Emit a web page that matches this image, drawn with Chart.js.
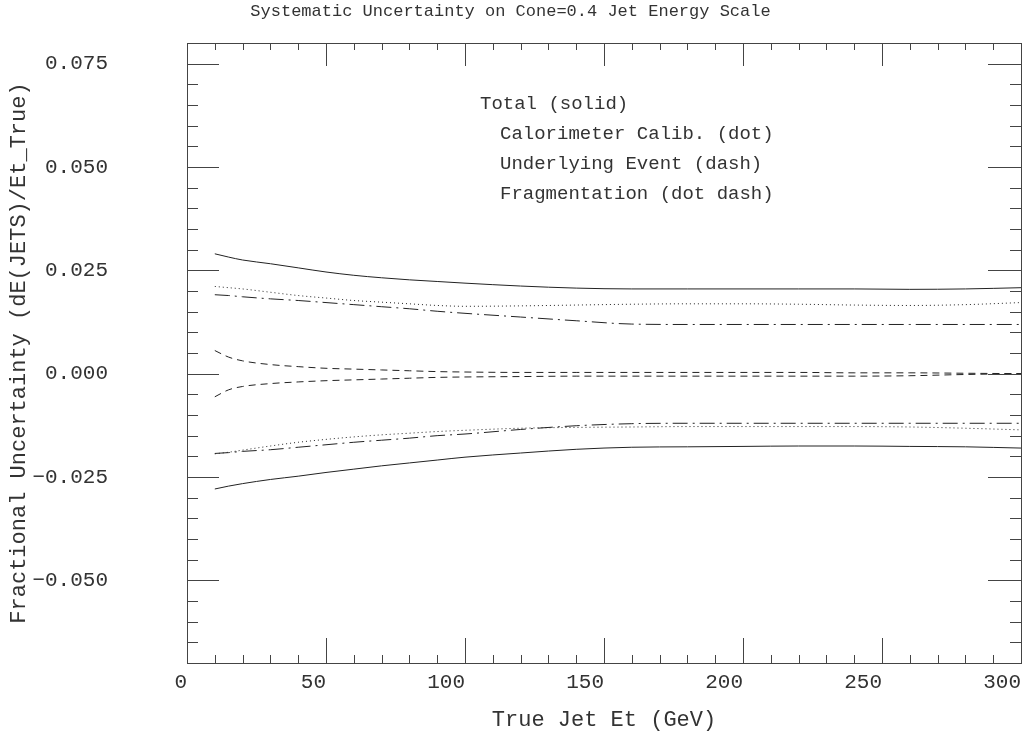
<!DOCTYPE html>
<html lang="en">
<head>
  <meta charset="UTF-8">
  <title>Systematic Uncertainty on Cone=0.4 Jet Energy Scale</title>
  <script src="https://cdn.jsdelivr.net/npm/chart.js"></script>
  <style>
    html, body {
      margin: 0;
      padding: 0;
      background: #fff;
    }
  </style>
</head>
<body>
  <canvas id="jesChart" width="1028" height="734"></canvas>

  <script>
    // True jet Et (GeV) sample points
    const etValues = [10, 15, 20, 30, 40, 50, 60, 70, 80, 90, 100, 120, 140, 160, 180, 200, 220, 240, 260, 280, 300];

    // fractional uncertainty, upper and lower bands
    const totalUp = [0.0290, 0.0282, 0.0275, 0.0266, 0.0256, 0.0246, 0.0238, 0.0232, 0.0227, 0.0223, 0.0219, 0.0212, 0.0207, 0.0205, 0.0205, 0.0205, 0.0205, 0.0205, 0.0204, 0.0205, 0.0208];
    const caloUp = [0.0211, 0.0208, 0.0205, 0.0197, 0.0189, 0.0183, 0.0177, 0.0173, 0.0169, 0.0165, 0.0163, 0.0164, 0.0166, 0.0168, 0.0169, 0.0169, 0.0168, 0.0166, 0.0165, 0.0167, 0.0172];
    const ueUp = [0.0056, 0.0040, 0.0031, 0.0022, 0.0017, 0.0013, 0.0011, 0.0009, 0.0007, 0.0005, 0.0004, 0.0003, 0.0003, 0.0003, 0.0003, 0.0003, 0.0003, 0.0002, 0.0002, 0.0001, 0.0000];
    const fragUp = [0.0191, 0.0189, 0.0186, 0.0181, 0.0177, 0.0172, 0.0167, 0.0162, 0.0157, 0.0151, 0.0146, 0.0137, 0.0128, 0.0120, 0.0119, 0.0119, 0.0119, 0.0119, 0.0119, 0.0119, 0.0119];
    const ueLo = [-0.0056, -0.0039, -0.0031, -0.0024, -0.0020, -0.0017, -0.0015, -0.0013, -0.0011, -0.0009, -0.0008, -0.0007, -0.0006, -0.0006, -0.0006, -0.0006, -0.0006, -0.0006, -0.0005, -0.0002, 0.0000];
    const fragLo = [-0.0193, -0.0191, -0.0188, -0.0184, -0.0178, -0.0172, -0.0166, -0.0161, -0.0156, -0.0150, -0.0146, -0.0135, -0.0126, -0.0121, -0.0120, -0.0120, -0.0120, -0.0120, -0.0120, -0.0120, -0.0120];
    const caloLo = [-0.0194, -0.0190, -0.0185, -0.0175, -0.0166, -0.0159, -0.0153, -0.0148, -0.0144, -0.0140, -0.0137, -0.0132, -0.0130, -0.0129, -0.0128, -0.0128, -0.0128, -0.0128, -0.0129, -0.0132, -0.0136];
    const totalLo = [-0.0279, -0.0272, -0.0266, -0.0256, -0.0248, -0.0239, -0.0231, -0.0223, -0.0216, -0.0209, -0.0202, -0.0192, -0.0183, -0.0178, -0.0177, -0.0176, -0.0175, -0.0175, -0.0176, -0.0177, -0.0180];

    const xTickValues = [0, 50, 100, 150, 200, 250, 300];
    const xTickLabels = ['0', '50', '100', '150', '200', '250', '300'];
    const yTickValues = [-0.05, -0.025, 0, 0.025, 0.05, 0.075];
    const yTickLabels = ['\u22120.050', '\u22120.025', '0.000', '0.025', '0.050', '0.075'];

    const legendLines = ['Total (solid)', 'Calorimeter Calib. (dot)', 'Underlying Event (dash)', 'Fragmentation (dot dash)'];

    const MONO = '"Liberation Mono", "DejaVu Sans Mono", monospace';
    const INK = '#333';

    Chart.defaults.font.family = MONO;
    Chart.defaults.color = INK;

    function curve(values, dash) {
      return {
        data: etValues.map((x, i) => ({ x: x, y: values[i] })),
        borderColor: '#222',
        borderWidth: 1,
        borderDash: dash,
        pointRadius: 0,
        fill: false,
        cubicInterpolationMode: 'monotone'
      };
    }

    // box frame with inward ticks, like the old PAW style
    const frameTicks = {
      id: 'frameTicks',
      afterDatasetsDraw(chart) {
        const { ctx, chartArea: a, scales: { x, y } } = chart;
        ctx.save();
        ctx.strokeStyle = '#444';
        ctx.lineWidth = 1;
        ctx.beginPath();
        for (let v = 10; v < 300; v += 10) {
          const px = Math.round(x.getPixelForValue(v)) + 0.5;
          const major = v % 50 === 0;
          ctx.moveTo(px, a.bottom);
          ctx.lineTo(px, a.bottom - (major ? 25 : 8));
          ctx.moveTo(px, a.top);
          ctx.lineTo(px, a.top + (major ? 23 : 7));
        }
        for (let k = -13; k <= 15; k++) {
          const py = Math.round(y.getPixelForValue(k * 0.005)) + 0.5;
          const major = k % 5 === 0;
          ctx.moveTo(a.left, py);
          ctx.lineTo(a.left + (major ? 32 : 11), py);
          ctx.moveTo(a.right, py);
          ctx.lineTo(a.right - (major ? 33 : 11), py);
        }
        ctx.stroke();
        ctx.strokeRect(Math.round(a.left) + 0.5, Math.round(a.top) + 0.5,
          Math.round(a.right - a.left), Math.round(a.bottom - a.top));
        ctx.restore();
      }
    };

    const textLegend = {
      id: 'textLegend',
      afterDraw(chart) {
        const ctx = chart.ctx;
        ctx.save();
        ctx.font = '19px ' + MONO;
        ctx.fillStyle = INK;
        ctx.textBaseline = 'middle';
        legendLines.forEach((line, i) => {
          ctx.fillText(line, i === 0 ? 480 : 500, 104 + i * 30);
        });
        ctx.restore();
      }
    };

    const ctx = document.getElementById('jesChart').getContext('2d');

    new Chart(ctx, {
      type: 'line',
      data: {
        datasets: [
          curve(totalUp, []),
          curve(caloUp, [1, 3]),
          curve(ueUp, [7, 5]),
          curve(fragUp, [15, 5, 2, 5]),
          curve(ueLo, [7, 5]),
          curve(fragLo, [15, 5, 2, 5]),
          curve(caloLo, [1, 3]),
          curve(totalLo, [])
        ]
      },
      options: {
        responsive: false,
        animation: false,
        layout: { padding: { left: 0, right: 7, top: 0, bottom: 0 } },
        plugins: {
          legend: { display: false },
          tooltip: { enabled: false },
          title: {
            display: true,
            text: 'Systematic Uncertainty on Cone=0.4 Jet Energy Scale',
            font: { size: 17, weight: 'normal' },
            color: INK,
            padding: { top: 1, bottom: 21.6 }
          }
        },
        scales: {
          x: {
            type: 'linear',
            min: 0,
            max: 300,
            grid: { display: false, drawTicks: false },
            border: { display: false },
            afterBuildTicks: s => { s.ticks = xTickValues.map(v => ({ value: v })); },
            afterFit: s => { s.height = 71; s.paddingRight = 0; },
            ticks: {
              align: 'end',
              padding: 7,
              maxRotation: 0,
              autoSkip: false,
              font: { size: 21 },
              callback: v => xTickLabels[xTickValues.indexOf(v)]
            },
            title: {
              display: true,
              text: 'True Jet Et (GeV)',
              font: { size: 22 },
              padding: { top: 0, bottom: 1 }
            }
          },
          y: {
            type: 'linear',
            min: -0.07,
            max: 0.08,
            grid: { display: false, drawTicks: false },
            border: { display: false },
            afterBuildTicks: s => { s.ticks = yTickValues.map(v => ({ value: v })); },
            afterFit: s => { s.width = 187; s.paddingTop = 0; s.paddingBottom = 0; },
            ticks: {
              padding: 79,
              autoSkip: false,
              font: { size: 21 },
              callback: v => yTickLabels[yTickValues.indexOf(v)]
            },
            title: {
              display: true,
              text: 'Fractional Uncertainty (dE(JETS)/Et_True)',
              font: { size: 22 },
              padding: { top: 6, bottom: 0 }
            }
          }
        }
      },
      plugins: [frameTicks, textLegend]
    });
  </script>
</body>
</html>
